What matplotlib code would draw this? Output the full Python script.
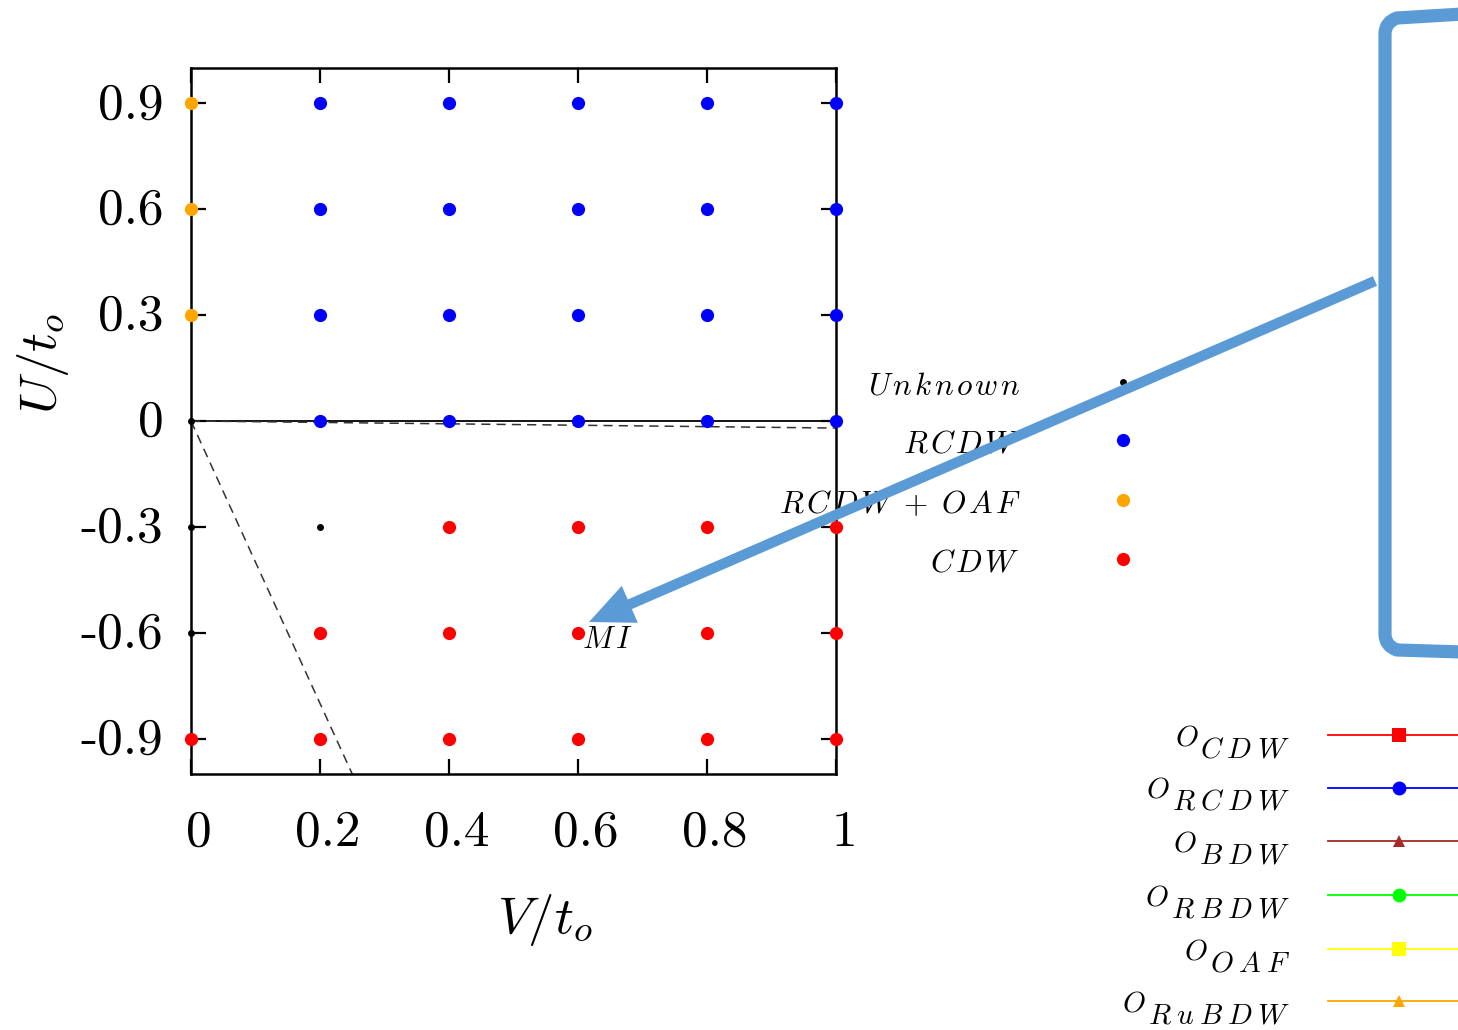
import numpy as np
import matplotlib
matplotlib.use("Agg")
import matplotlib.pyplot as plt
from matplotlib.lines import Line2D
from matplotlib.patches import FancyArrowPatch, PathPatch
from matplotlib.path import Path
from matplotlib.transforms import ScaledTranslation

plt.rcParams['mathtext.fontset'] = 'cm'
plt.rcParams['axes.unicode_minus'] = False

# phase diagram grid
V_vals = [0.0, 0.2, 0.4, 0.6, 0.8, 1.0]
U_vals = [0.9, 0.6, 0.3, 0.0, -0.3, -0.6, -0.9]
# U = unknown, R = RCDW, RO = RCDW+OAF, C = CDW
phase = [
    ['RO', 'R', 'R', 'R', 'R', 'R'],
    ['RO', 'R', 'R', 'R', 'R', 'R'],
    ['RO', 'R', 'R', 'R', 'R', 'R'],
    ['U', 'R', 'R', 'R', 'R', 'R'],
    ['U', 'U', 'C', 'C', 'C', 'C'],
    ['U', 'C', 'C', 'C', 'C', 'C'],
    ['C', 'C', 'C', 'C', 'C', 'C'],
]
phase_codes = ['U', 'R', 'RO', 'C']
phase_names = ['Unknown', 'RCDW', 'RCDW+OAF', 'CDW']
phase_colors = ['black', 'blue', 'orange', 'red']
phase_msize = [5, 9.5, 9.5, 9.5]

# boundaries
solid_V = [0.0, 1.0]
solid_U = [0.0, 0.0]
dash1_V = [0.0, 1.0]
dash1_U = [0.0, -0.02]
dash2_V = [0.0, 0.25]
dash2_U = [0.0, -1.0]

xtick_vals = [0, 0.2, 0.4, 0.6, 0.8, 1.0]
xtick_labels = ['0', '0.2', '0.4', '0.6', '0.8', '1']
ytick_vals = [0.9, 0.6, 0.3, 0.0, -0.3, -0.6, -0.9]
ytick_labels = ['0.9', '0.6', '0.3', '0', '-0.3', '-0.6', '-0.9']

# order parameter key
op_subs = ['CDW', 'RCDW', 'BDW', 'RBDW', 'OAF', 'RuBDW']
op_colors = ['red', 'blue', '#A52A2A', '#00FF00', '#FFFF00', '#FFA500']
op_markers = ['s', 'o', '^', 'o', 's', '^']
op_msize = [10, 10, 8, 10, 10, 8]

W, H = 1458, 1030
ARROW_BLUE = '#5B9BD5'


def px(x, y):
    return x / W, 1 - y / H


def spaced(word, gap):
    # math italic with extra letter spacing
    parts = []
    for ch in word:
        if ch == '+':
            parts.append(r'\,+\,')
        else:
            parts.append(ch)
    return '$' + (r'\hspace{%.2f}' % gap).join(parts) + '$'


fig = plt.figure(figsize=(W / 100, H / 100), dpi=100)
ax = fig.add_axes([191 / W, 1 - 774 / H, (836 - 191) / W, (774 - 68) / H])

ax.plot(solid_V, solid_U, color='black', lw=1.3, zorder=2)
ax.plot(dash1_V, dash1_U, color='#333333', lw=1.1, ls=(0, (6, 4)), zorder=2)
ax.plot(dash2_V, dash2_U, color='#333333', lw=1.1, ls=(0, (6, 4)), zorder=2)

for code, col, ms in zip(phase_codes, phase_colors, phase_msize):
    xs, ys = [], []
    for i, u in enumerate(U_vals):
        for j, v in enumerate(V_vals):
            if phase[i][j] == code:
                xs.append(v)
                ys.append(u)
    ax.plot(xs, ys, 'o', color=col, ms=ms, mew=0, clip_on=False, zorder=4)

ax.text(0.606, -0.62, spaced('MI', 0.15), fontsize=22, ha='left', va='center')

ax.set_xlim(0, 1)
ax.set_ylim(-1, 1)
ax.set_xticks(xtick_vals)
ax.set_xticklabels(xtick_labels, fontfamily='cmr10', fontsize=37)
ax.set_yticks(ytick_vals)
ax.set_yticklabels(ytick_labels, fontfamily='cmr10', fontsize=37)
ax.tick_params(direction='in', length=11, width=1.6, top=True, right=True)
ax.tick_params(axis='x', pad=26)
ax.tick_params(axis='y', pad=20)
for lab in ax.get_xticklabels():
    lab.set_transform(lab.get_transform() + ScaledTranslation(0.08, 0, fig.dpi_scale_trans))
for lab in ax.get_yticklabels():
    lab.set_transform(lab.get_transform() + ScaledTranslation(0, 0.03, fig.dpi_scale_trans))
for s in ax.spines.values():
    s.set_linewidth(1.8)

fig.text(*px(545, 920), r'$V/t_o$', fontsize=38, ha='center', va='center')
fig.text(*px(43, 364), r'$U/t_o$', fontsize=38, ha='center', va='center', rotation=90)

# phase key
key_rows = [386, 444, 504, 563]
for name, col, ms, ry in zip(phase_names, phase_colors, phase_msize, key_rows):
    fig.text(*px(1020, ry), spaced(name, 0.12), fontsize=22.5, ha='right', va='center')
    fig.add_artist(Line2D([1123 / W], [1 - (ry - 4) / H], marker='o', color=col,
                          ms=ms, mew=0, ls='none'))

# order parameter key
renderer = fig.canvas.get_renderer()
op_rows = [735, 788, 841, 895, 949, 1001]
for sub, col, mk, ms, ry in zip(op_subs, op_colors, op_markers, op_msize, op_rows):
    t = fig.text(*px(1290, ry + 14), spaced(sub, 0.24), fontsize=21, ha='right', va='center')
    bb = t.get_window_extent(renderer=renderer)
    fig.text(bb.x0 / W - 2 / W, 1 - (ry + 2) / H, r'$O$', fontsize=21, ha='right', va='center')
    fig.add_artist(Line2D([1328 / W, 1.0], [1 - ry / H, 1 - ry / H], color=col, lw=1.3))
    fig.add_artist(Line2D([1399 / W], [1 - ry / H], marker=mk, color=col, ms=ms, mew=0,
                          ls='none'))

# callout arrow
arrow = FancyArrowPatch(px(1375, 281), px(589, 622), transform=fig.transFigure,
                        arrowstyle='simple,head_length=32,head_width=29,tail_width=7.5',
                        mutation_scale=1, facecolor=ARROW_BLUE, edgecolor='none',
                        shrinkA=0, shrinkB=0, zorder=10)
fig.add_artist(arrow)

# bracket on the right
bx = 1385
verts = [px(W + 5, 14), px(bx + 12, 18), px(bx, 22), px(bx, 34),
         px(bx, 634), px(bx, 646), px(bx + 12, 650), px(W + 5, 652)]
codes = [Path.MOVETO, Path.LINETO, Path.CURVE3, Path.CURVE3,
         Path.LINETO, Path.CURVE3, Path.CURVE3, Path.LINETO]
bracket = PathPatch(Path(verts, codes), transform=fig.transFigure, facecolor='none',
                    edgecolor=ARROW_BLUE, lw=9.5, joinstyle='round', capstyle='butt', zorder=10)
fig.add_artist(bracket)

fig.savefig('out.png', dpi=100)
